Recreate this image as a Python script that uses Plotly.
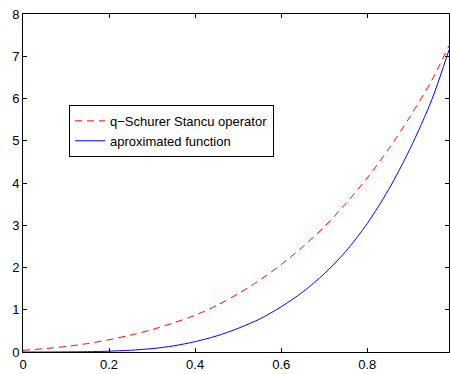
import plotly.graph_objects as go

x_vals = [0.0, 0.05, 0.1, 0.15, 0.2, 0.25, 0.3, 0.35, 0.4, 0.45, 0.5, 0.55, 0.6, 0.65, 0.7, 0.75, 0.8, 0.85, 0.9, 0.95, 0.99]
q_schurer = [0.04, 0.08, 0.13, 0.20, 0.29, 0.40, 0.53, 0.69, 0.87, 1.10, 1.38, 1.70, 2.07, 2.49, 2.96, 3.51, 4.12, 4.81, 5.58, 6.43, 7.25]
approx_fn = [0.0, 0.0, 0.002, 0.007, 0.02, 0.042, 0.08, 0.145, 0.245, 0.38, 0.56, 0.78, 1.07, 1.42, 1.85, 2.38, 3.04, 3.85, 4.82, 5.97, 7.15]

x_ticks = [0, 0.2, 0.4, 0.6, 0.8]
x_tick_labels = ["0", "0.2", "0.4", "0.6", "0.8"]
y_ticks = [0, 1, 2, 3, 4, 5, 6, 7, 8]

fig = go.Figure()
fig.add_trace(go.Scatter(
    x=x_vals, y=q_schurer, mode="lines", name="q\u2212Schurer Stancu operator",
    line=dict(color="#ff0000", width=1, dash="7px,5px", shape="spline", smoothing=0.8),
))
fig.add_trace(go.Scatter(
    x=x_vals, y=approx_fn, mode="lines", name="aproximated function",
    line=dict(color="#0000ff", width=1, shape="spline", smoothing=0.8),
))

axis_common = dict(
    showgrid=False, zeroline=False, showline=True, linecolor="black", linewidth=1,
    mirror="ticks", ticks="inside", ticklen=4, tickcolor="black", tickwidth=1,
    tickfont=dict(family="Liberation Sans, Arial, sans-serif", size=13, color="black"),
)

fig.update_layout(
    width=450, height=374,
    margin=dict(l=23, r=1, t=14, b=22),
    paper_bgcolor="white", plot_bgcolor="white",
    xaxis=dict(range=[0, 0.99], tickvals=x_ticks, ticktext=x_tick_labels, **axis_common),
    yaxis=dict(range=[0, 8], tickvals=y_ticks, **axis_common),
    legend=dict(
        x=0.108, y=0.731, xanchor="left", yanchor="top",
        bgcolor="white", bordercolor="black", borderwidth=1,
        font=dict(family="Liberation Sans, Arial, sans-serif", size=13, color="black"),
        tracegroupgap=0,
    ),
    showlegend=True,
)

fig.write_html("out.html")
